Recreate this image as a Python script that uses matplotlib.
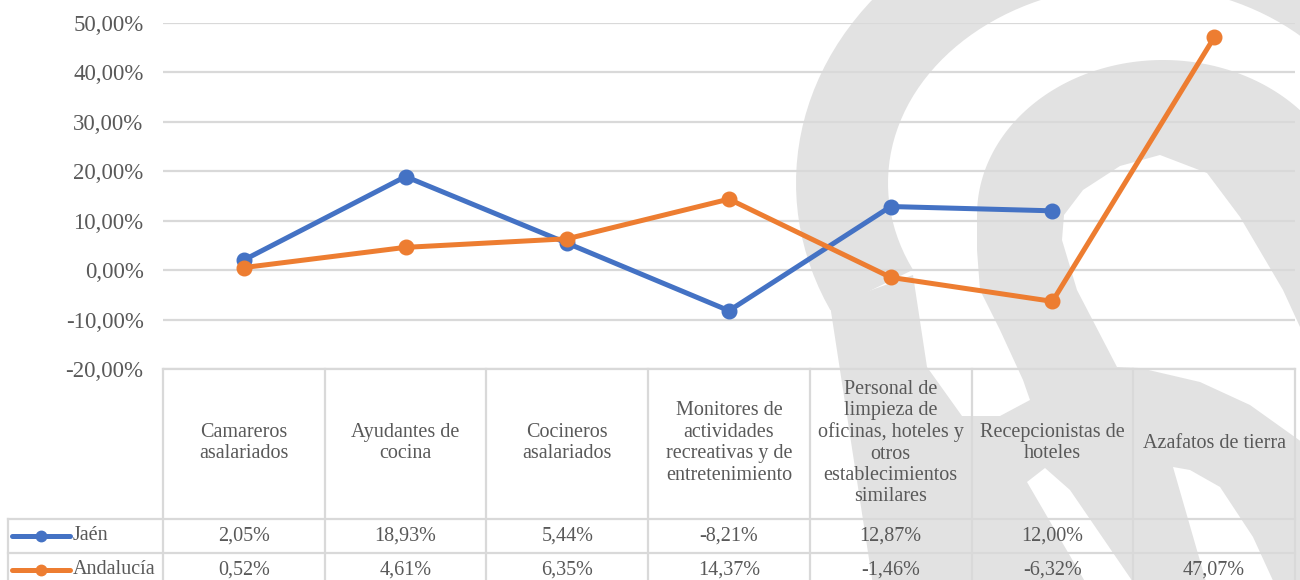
import matplotlib
matplotlib.use("Agg")
import matplotlib.pyplot as plt
from matplotlib.patches import Polygon
import numpy as np

# ---------------- data ----------------
categories = [
    "Camareros\nasalariados",
    "Ayudantes de\ncocina",
    "Cocineros\nasalariados",
    "Monitores de\nactividades\nrecreativas y de\nentretenimiento",
    "Personal de\nlimpieza de\noficinas, hoteles y\notros\nestablecimientos\nsimilares",
    "Recepcionistas de\nhoteles",
    "Azafatos de tierra",
]
jaen = [2.05, 18.93, 5.44, -8.21, 12.87, 12.00, None]
andalucia = [0.52, 4.61, 6.35, 14.37, -1.46, -6.32, 47.07]
series_names = ["Jaén", "Andalucía"]
yticks = [-20, -10, 0, 10, 20, 30, 40, 50]

BLUE = "#4472C4"
ORANGE = "#ED7D31"
GRID = "#D9D9D9"
TXT = "#595959"
WM = "#E2E2E2"

plt.rcParams["font.family"] = "serif"
plt.rcParams["font.serif"] = ["Liberation Serif", "DejaVu Serif"]

W, H = 1300, 580
fig = plt.figure(figsize=(W / 100, H / 100), dpi=100)
fig.patch.set_facecolor("white")


def to_fig(pts):
    return [(x / W, 1 - y / H) for x, y in pts]


def poly(pts, color=WM, z=-5):
    fig.add_artist(Polygon(to_fig(pts), closed=True, facecolor=color,
                           edgecolor="none", transform=fig.transFigure, zorder=z))


def arc(cx, cy, a, b, t0, t1, npts=100):
    t = np.radians(np.linspace(t0, t1, npts))
    return [(cx + a * np.cos(v), cy - b * np.sin(v)) for v in t]


# ---------------- watermark (decorative background shape) ----------------
# outer band (big ellipse ring) + its tail
poly(arc(1135, 183, 339, 290, 206, -40) + arc(1135, 183, 247, 198, -40, 206))
poly([(830, 305), (873, 585), (965, 585), (962, 416), (927, 367), (913, 275)])
# inner arch and lower body
poly(arc(1163, 215, 186, 155, 180, 40)
     + [(1306, 130), (1306, 585), (960, 585), (962, 416), (1000, 416), (1030, 400),
        (1023, 380), (1000, 330), (980, 290), (977, 250)])
# white hole of the arch
poly([(1062, 240), (1064, 215), (1083, 190), (1120, 166), (1160, 155), (1207, 173),
      (1240, 217), (1283, 290), (1306, 340), (1306, 445), (1250, 405), (1200, 382),
      (1140, 368), (1117, 367), (1077, 290)], color="white", z=-4)
# white wedges in the lower part
poly([(1027, 482), (1045, 468), (1070, 490), (1135, 585), (1087, 585)],
     color="white", z=-4)
poly([(1173, 467), (1190, 470), (1220, 487), (1253, 537), (1275, 585), (1207, 585)],
     color="white", z=-4)

# ---------------- main chart ----------------
L, R = 163, 1295
TOP, BOT = 23, 369
ax = fig.add_axes([L / W, 1 - BOT / H, (R - L) / W, (BOT - TOP) / H])
ax.set_facecolor("none")
n = len(categories)
xpos = np.arange(n)
ax.set_xlim(-0.5, n - 0.5)
ax.set_ylim(yticks[0], yticks[-1])
ax.set_yticks(yticks)
ax.set_yticklabels([f"{v:.2f}%".replace(".", ",") for v in yticks],
                   fontsize=16.5, color=TXT)
ax.tick_params(axis="y", length=0, pad=14)
ax.set_xticks([])
for s in ax.spines.values():
    s.set_visible(False)
for v in yticks:
    ax.axhline(v, color=GRID, lw=1.6, zorder=1)


def to_arr(vals):
    return np.array([np.nan if v is None else v for v in vals], dtype=float)


ax.plot(xpos, to_arr(jaen), color=BLUE, lw=3.6, marker="o", ms=10.5,
        zorder=3, solid_capstyle="round")
ax.plot(xpos, to_arr(andalucia), color=ORANGE, lw=3.6, marker="o", ms=10.5,
        zorder=4, solid_capstyle="round")

# ---------------- data table ----------------
TB = 580
axt = fig.add_axes([L / W, 0, (R - L) / W, (TB - BOT) / H])
axt.set_facecolor("none")
axt.set_xlim(-0.5, n - 0.5)
axt.set_ylim(TB - BOT, 0)  # pixel offsets from the top of the table
axt.axis("off")

hdr_h = 150
row_h = 34
px_per_col = (R - L) / n
left_col = -0.5 - (L - 8) / px_per_col

for i in range(n + 1):
    axt.plot([i - 0.5, i - 0.5], [0, hdr_h + 2 * row_h + 10], color=GRID, lw=1.6,
             clip_on=False)
axt.plot([left_col, left_col], [hdr_h, hdr_h + 2 * row_h + 10], color=GRID, lw=1.6,
         clip_on=False)
axt.plot([-0.5, n - 0.5], [0, 0], color=GRID, lw=1.6, clip_on=False)
for k in range(2):
    yy = hdr_h + k * row_h
    axt.plot([left_col, n - 0.5], [yy, yy], color=GRID, lw=1.6, clip_on=False)

for i, c in enumerate(categories):
    axt.text(i, hdr_h / 2 - 1, c, ha="center", va="center", fontsize=14.5,
             color=TXT, linespacing=1.17, clip_on=False)


def fmt(v):
    return "" if v is None else f"{v:.2f}%".replace(".", ",")


for k, (name, vals, col) in enumerate([(series_names[0], jaen, BLUE),
                                        (series_names[1], andalucia, ORANGE)]):
    yc = hdr_h + k * row_h + row_h / 2
    for i, v in enumerate(vals):
        axt.text(i, yc, fmt(v), ha="center", va="center", fontsize=14.5, color=TXT,
                 clip_on=False)
    x0 = left_col + 4 / px_per_col
    x1 = left_col + 62 / px_per_col
    axt.plot([x0, x1], [yc, yc], color=col, lw=3.6, clip_on=False,
             solid_capstyle="round")
    axt.plot([(x0 + x1) / 2], [yc], marker="o", ms=7.5, color=col, clip_on=False)
    axt.text(x1 + 3 / px_per_col, yc, name, ha="left", va="center", fontsize=14.5,
             color=TXT, clip_on=False)

fig.savefig("out.png", dpi=100, facecolor="white")
